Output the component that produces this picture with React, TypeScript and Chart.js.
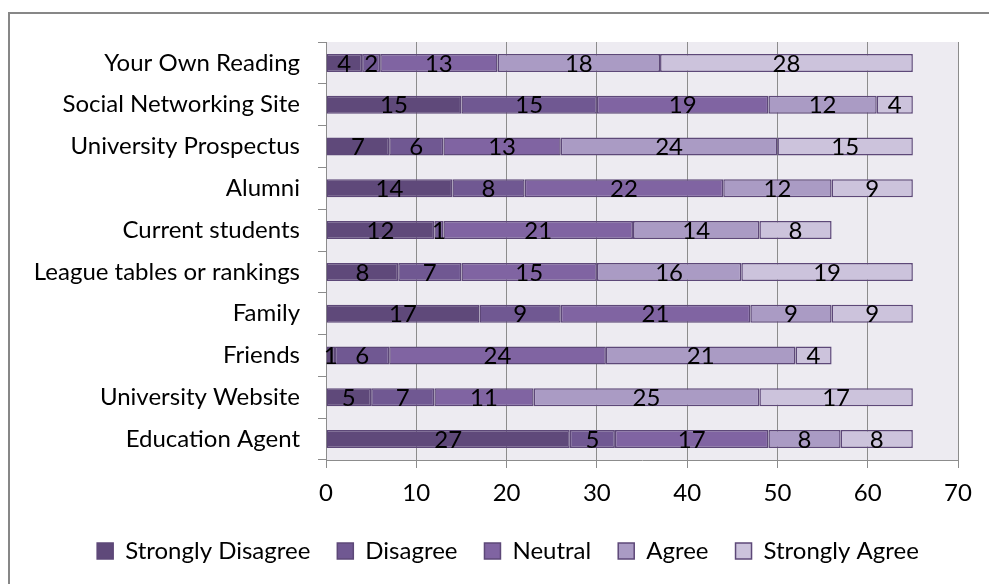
import React, { useEffect, useRef } from "react";
import { Chart, registerables } from "chart.js";

Chart.register(...registerables);

const categories = [
  "Your Own Reading",
  "Social Networking Site",
  "University Prospectus",
  "Alumni",
  "Current students",
  "League tables or rankings",
  "Family",
  "Friends",
  "University Website",
  "Education Agent",
];
const seriesNames = ["Strongly Disagree", "Disagree", "Neutral", "Agree", "Strongly Agree"];
const stronglyDisagree = [4, 15, 7, 14, 12, 8, 17, 1, 5, 27];
const disagree = [2, 15, 6, 8, 1, 7, 9, 6, 7, 5];
const neutral = [13, 19, 13, 22, 21, 15, 21, 24, 11, 17];
const agree = [18, 12, 24, 12, 14, 16, 9, 21, 25, 8];
const stronglyAgree = [28, 4, 15, 9, 8, 19, 9, 4, 17, 8];
const xMin = 0;
const xMax = 70;
const xStep = 10;

const seriesColors = ["#5F497A", "#705892", "#8064A2", "#AA9BC4", "#CCC3DC"];
const borderColor = "#5D4878";
const FONT = "Lato, 'Open Sans', sans-serif";
const FONT_SIZE = 24;

export default function App() {
  const ref = useRef<HTMLCanvasElement | null>(null);
  useEffect(() => {
    if (!ref.current) return;
    const seriesData = [stronglyDisagree, disagree, neutral, agree, stronglyAgree];
    const bgPlugin = {
      id: "bg",
      afterLayout(chart: any) {
        const lg = chart.legend;
        if (lg) {
          lg.left += 19;
          lg.right += 19;
        }
      },
      beforeDraw(chart: any) {
        const { ctx, chartArea } = chart;
        ctx.save();
        ctx.fillStyle = "#EDEBF1";
        ctx.fillRect(chartArea.left, chartArea.top, chartArea.right - chartArea.left, chartArea.bottom - chartArea.top);
        ctx.restore();
      },
      afterDraw(chart: any) {
        const { ctx } = chart;
        ctx.save();
        ctx.strokeStyle = "#878787";
        ctx.lineWidth = 2;
        ctx.beginPath();
        ctx.moveTo(9, 600);
        ctx.lineTo(9, 13);
        ctx.lineTo(1000, 13);
        ctx.stroke();
        ctx.restore();
      },
    };
    const labelPlugin = {
      id: "valueLabels",
      afterDatasetsDraw(chart: any) {
        const { ctx } = chart;
        ctx.save();
        ctx.font = `${FONT_SIZE}px ${FONT}`;
        ctx.fillStyle = "#000";
        ctx.textAlign = "center";
        ctx.textBaseline = "middle";
        chart.data.datasets.forEach((ds: any, i: number) => {
          const meta = chart.getDatasetMeta(i);
          meta.data.forEach((el: any, j: number) => {
            const p = el.getProps(["x", "base", "y"], true);
            ctx.fillText(String(ds.data[j]), (p.x + p.base) / 2, p.y + 1);
          });
        });
        ctx.restore();
      },
    };
    const chart = new Chart(ref.current, {
      type: "bar",
      data: {
        labels: categories,
        datasets: seriesNames.map((name, i) => ({
          label: name,
          data: seriesData[i],
          backgroundColor: seriesColors[i],
          borderColor: borderColor,
          borderWidth: 1.5,
          borderSkipped: false,
          barPercentage: 0.43,
          categoryPercentage: 1,
        })),
      },
      options: {
        indexAxis: "y",
        animation: false,
        responsive: false,
        maintainAspectRatio: false,
        layout: { padding: { left: 20, right: 31, top: 42, bottom: 11 } },
        font: { family: FONT, size: FONT_SIZE },
        scales: {
          x: {
            stacked: true,
            min: xMin,
            max: xMax,
            ticks: { stepSize: xStep, color: "#000", font: { family: FONT, size: FONT_SIZE }, padding: 11, maxRotation: 0 },
            grid: { color: "#8C8C8C", lineWidth: 1, tickLength: 8, drawOnChartArea: true, drawTicks: true },
            border: { color: "#8C8C8C", width: 1 },
            afterFit(scale: any) {
              scale.height = 52;
            },
          },
          y: {
            stacked: true,
            ticks: { color: "#000", font: { family: FONT, size: FONT_SIZE }, padding: 18, autoSkip: false },
            grid: { offset: true, drawOnChartArea: false, drawTicks: true, tickLength: 8, color: "#8C8C8C" },
            border: { color: "#8C8C8C", width: 1 },
            afterFit(scale: any) {
              scale.width = 306;
            },
          },
        },
        plugins: {
          legend: {
            position: "bottom",
            labels: {
              boxWidth: 16,
              boxHeight: 16,
              padding: 27,
              color: "#000",
              font: { family: FONT, size: FONT_SIZE },
            },
          },
          tooltip: { enabled: false },
        },
      } as any,
      plugins: [bgPlugin, labelPlugin],
    });
    return () => chart.destroy();
  }, []);
  return (
    <div style={{ position: "fixed", left: 0, top: 0, width: 989, height: 584, background: "#fff" }}>
      <canvas ref={ref} width={989} height={584} style={{ width: 989, height: 584, display: "block" }} />
    </div>
  );
}
